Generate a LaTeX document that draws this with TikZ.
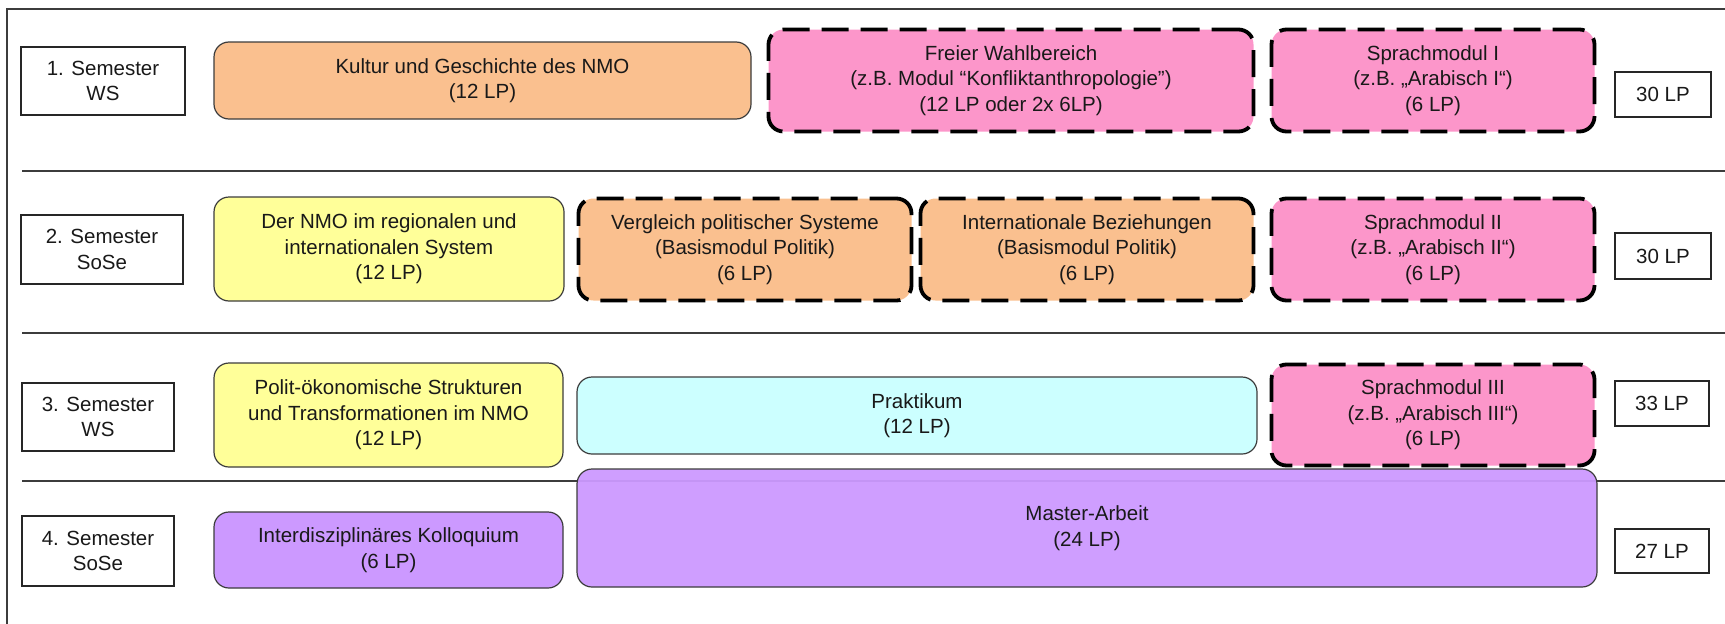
\documentclass[tikz,border=0pt]{standalone}
\usepackage{fontspec}
\setmainfont{Liberation Sans}
\definecolor{pfirsich}{RGB}{250,192,143}
\definecolor{rosa}{RGB}{252,150,202}
\definecolor{gelb}{RGB}{255,255,153}
\definecolor{hellblau}{RGB}{204,255,255}
\definecolor{lila}{RGB}{204,153,255}
\definecolor{rand}{RGB}{60,60,60}

\begin{document}
\begin{tikzpicture}[x=1pt, y=-1pt,
		txt/.style={align=center, inner sep=0pt, text=black!90, font=\fontsize{20.5}{25.5}\selectfont},
		semester/.style={txt, draw=black!85, line width=1.2pt},
		modul/.style={txt, draw=rand, line width=1.2pt, rounded corners=15pt},
		wahl/.style={modul, draw=black, line width=3.8pt, dash pattern=on 27pt off 12pt},
		summe/.style={txt, draw=black!85, line width=1.2pt}]
	\useasboundingbox (0, 0) rectangle (1725, 624);
	% Rahmen und Trennlinien
	\draw[rand, line width=1.3pt] (7, 640) -- (7, 9) -- (1740, 9);
	\draw[rand, line width=1.3pt] (22, 171) -- (1740, 171);
	\draw[rand, line width=1.3pt] (22, 333) -- (1740, 333);
	\draw[rand, line width=1.3pt] (22, 481) -- (1740, 481);
	% 1. Semester
	\node[semester, minimum width=164, minimum height=68] (S1)at(103, 81) {1. Semester\\WS};
	\node[modul, fill=pfirsich, minimum width=537, minimum height=77] (K1)at(482.5, 80.5) {Kultur und Geschichte des NMO\\(12 LP)};
	\node[wahl, fill=rosa, minimum width=485, minimum height=102] (W1)at(1011, 80.5) {Freier Wahlbereich\\(z.B. Modul “Konfliktanthropologie”)\\(12 LP oder 2x 6LP)};
	\node[wahl, fill=rosa, minimum width=323, minimum height=102] (SP1)at(1433, 80.5) {Sprachmodul I\\(z.B. „Arabisch I“)\\(6 LP)};
	\node[summe, minimum width=96, minimum height=45] (LP1)at(1663, 94.5) {30 LP};
	% 2. Semester
	\node[semester, minimum width=162, minimum height=69] (S2)at(102, 249.5) {2. Semester\\SoSe};
	\node[modul, fill=gelb, minimum width=350, minimum height=104] (R2)at(389, 249) {Der NMO im regionalen und\\internationalen System\\(12 LP)};
	\node[wahl, fill=pfirsich, minimum width=333, minimum height=102] (V2)at(745, 249.5) {Vergleich politischer Systeme\\(Basismodul Politik)\\(6 LP)};
	\node[wahl, fill=pfirsich, minimum width=333, minimum height=102] (IB2)at(1087, 249.5) {Internationale Beziehungen\\(Basismodul Politik)\\(6 LP)};
	\node[wahl, fill=rosa, minimum width=323, minimum height=102] (SP2)at(1433, 249.5) {Sprachmodul II\\(z.B. „Arabisch II“)\\(6 LP)};
	\node[summe, minimum width=96, minimum height=46] (LP2)at(1663, 256) {30 LP};
	% 3. Semester
	\node[semester, minimum width=152, minimum height=68] (S3)at(98, 417) {3. Semester\\WS};
	\node[modul, fill=gelb, minimum width=349, minimum height=104] (P3)at(388.5, 415) {Polit-ökonomische Strukturen\\und Transformationen im NMO\\(12 LP)};
	\node[modul, fill=hellblau, minimum width=680, minimum height=77] (PR3)at(917, 415.5) {Praktikum\\(12 LP)};
	\node[wahl, fill=rosa, minimum width=323, minimum height=101] (SP3)at(1433, 415) {Sprachmodul III\\(z.B. „Arabisch III“)\\(6 LP)};
	\node[summe, minimum width=94, minimum height=45] (LP3)at(1662, 403.5) {33 LP};
	% 4. Semester
	\node[semester, minimum width=152, minimum height=70] (S4)at(98, 551) {4. Semester\\SoSe};
	\node[modul, fill=lila, minimum width=349, minimum height=76] (K4)at(388.5, 550) {Interdisziplinäres Kolloquium\\(6 LP)};
	\node[modul, fill=lila, fill opacity=0.95, text opacity=1, minimum width=1020, minimum height=118] (MA4)at(1087, 528) {Master-Arbeit\\(24 LP)};
	\node[summe, minimum width=94, minimum height=44] (LP4)at(1662, 551) {27 LP};
\end{tikzpicture}
\end{document}
